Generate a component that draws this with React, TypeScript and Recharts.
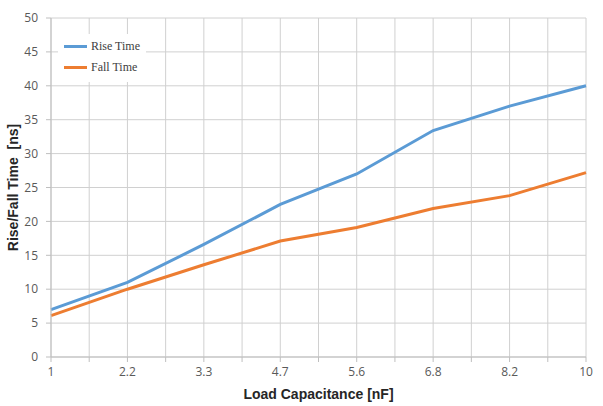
import React from 'react';
import { LineChart, Line, XAxis, YAxis, CartesianGrid, Legend } from 'recharts';

const categories = ['1', '2.2', '3.3', '4.7', '5.6', '6.8', '8.2', '10'];
const riseTime = [7, 11, 16.6, 22.5, 27, 33.4, 37, 40];
const fallTime = [6.1, 10, 13.6, 17.1, 19.1, 21.9, 23.8, 27.2];
const yTicks = [0, 5, 10, 15, 20, 25, 30, 35, 40, 45, 50];
const seriesOrder = ['Rise Time', 'Fall Time'];

const data = categories.map((c, i) => ({ i, cat: c, rise: riseTime[i], fall: fallTime[i] }));
const xTicks: number[] = [];
for (let k = 0; k <= (categories.length - 1) * 2; k++) xTicks.push(k / 2);

const tickStyle = { fontSize: 12, fill: '#595959', fontFamily: '"Open Sans", "Noto Sans", sans-serif' };

const LegendBox = (props: any) => {
  const payload = [...(props.payload || [])].sort(
    (a: any, b: any) => seriesOrder.indexOf(a.value) - seriesOrder.indexOf(b.value)
  );
  return (
    <div style={{ background: '#fff', padding: '2px 6px 4px 6px', fontFamily: '"Liberation Serif", "Times New Roman", serif', fontSize: 12, color: '#404040' }}>
      {payload.map((p: any) => (
        <div key={p.value} style={{ display: 'flex', alignItems: 'center', height: 21 }}>
          <span style={{ display: 'inline-block', width: 23, height: 3, background: p.color, marginRight: 4 }} />
          <span>{p.value}</span>
        </div>
      ))}
    </div>
  );
};

export default function App() {
  return (
    <div style={{ position: 'absolute', left: 0, top: 0, background: '#fff' }}>
      <LineChart width={603} height={406} data={data} margin={{ top: 18, right: 17, bottom: 0, left: 0 }}>
        <CartesianGrid stroke="#d0d0d0" strokeWidth={1} />
        <XAxis
          type="number"
          dataKey="i"
          domain={[0, categories.length - 1]}
          ticks={xTicks}
          interval={0}
          height={49}
          tickSize={5}
          tickMargin={5}
          stroke="#bfbfbf"
          tick={tickStyle}
          tickFormatter={(v: number) => (Number.isInteger(v) ? categories[v] : '')}
          label={{
            content: (p: any) => {
              const vb = p.viewBox || {};
              return (
                <text x={vb.x + vb.width / 2} y={399} textAnchor="middle" fontSize={14} fontWeight="bold" fill="#262626" fontFamily='"Liberation Sans", Arial, sans-serif'>
                  Load Capacitance [nF]
                </text>
              );
            },
          }}
        />
        <YAxis
          width={51}
          domain={[0, 50]}
          ticks={yTicks}
          interval={0}
          tickSize={5}
          tickMargin={8}
          stroke="#bfbfbf"
          tick={tickStyle}
          label={{
            content: (p: any) => {
              const vb = p.viewBox || {};
              const cy = vb.y + vb.height / 2;
              return (
                <text x={18} y={cy} transform={`rotate(-90, 18, ${cy})`} textAnchor="middle" fontSize={14} fontWeight="bold" fill="#262626" fontFamily='"Liberation Sans", Arial, sans-serif' style={{ whiteSpace: 'pre' }}>
                  {'Rise/Fall Time\u00a0\u00a0[ns]'}
                </text>
              );
            },
          }}
        />
        <Legend
          layout="vertical"
          align="center"
          verticalAlign="middle"
          content={<LegendBox />}
          wrapperStyle={{ top: 34, left: 58, width: 'auto' }}
        />
        <Line type="linear" dataKey="rise" name="Rise Time" stroke="#5b9bd5" strokeWidth={3} dot={false} isAnimationActive={false} />
        <Line type="linear" dataKey="fall" name="Fall Time" stroke="#ed7d31" strokeWidth={3} dot={false} isAnimationActive={false} />
      </LineChart>
    </div>
  );
}
